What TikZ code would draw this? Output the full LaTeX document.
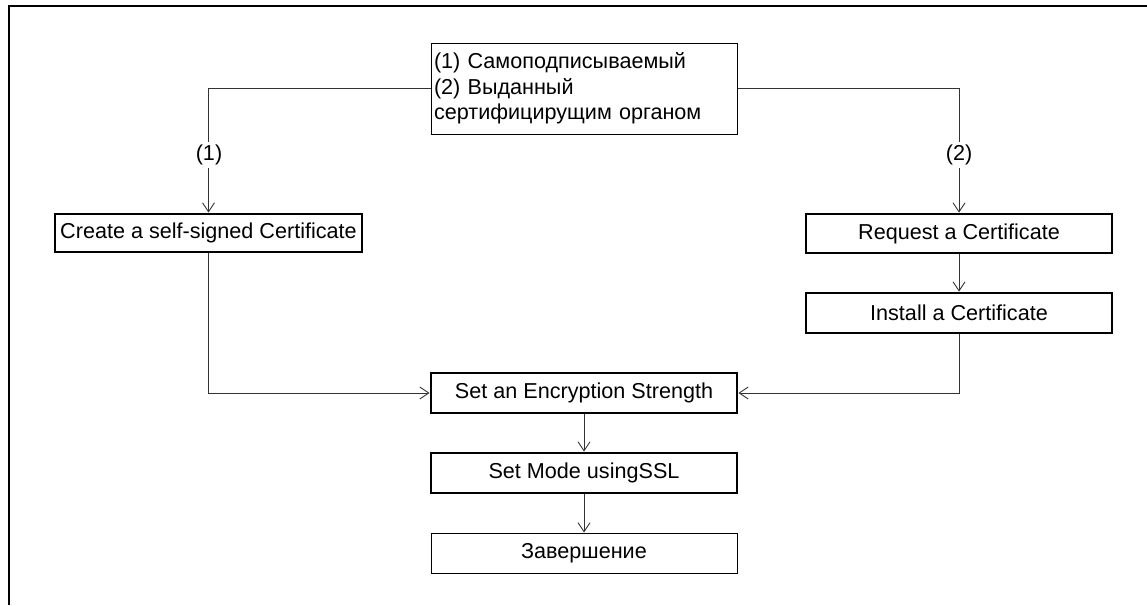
\documentclass[tikz,border=0pt]{standalone}
\usepackage{fontspec}
\setmainfont{Liberation Sans}
\usetikzlibrary{arrows.meta}
\begin{document}
\begin{tikzpicture}[x=1pt,y=-1pt,
  font=\fontsize{21.6}{25.5}\selectfont,
  stepbox/.style={draw, line width=2.8pt, minimum width=306pt, minimum height=39pt, inner sep=0pt},
  plainbox/.style={draw, line width=1pt, minimum width=306pt, minimum height=39pt, inner sep=0pt},
  conn/.style={line width=0.9pt, draw=black!80, -{Straight Barb[length=9pt,width=12pt,line width=0.9pt]}},
  lbl/.style={fill=white, inner sep=3pt}
]
\useasboundingbox (0,0) rectangle (1147,605);
\draw[line width=2.5pt] (9,605) -- (9,6) -- (1147,6);

\node[plainbox, minimum height=91pt, text width=300pt, align=left, inner sep=3pt] (top) at (584,88.5)
  {(1) Самоподписываемый\\(2) Выданный\\сертифицирущим органом};
\node[stepbox, minimum width=307pt, minimum height=38pt] (create) at (208.5,233) {Create a self-signed Certificate};
\node[stepbox] (request) at (959,233.5) {Request a Certificate};
\node[stepbox, minimum height=40pt] (install) at (959,313) {Install a Certificate};
\node[stepbox, minimum height=40pt] (enc) at (584,393) {Set an Encryption Strength};
\node[stepbox, minimum height=40pt] (mode) at (584,473) {Set Mode usingSSL};
\node[plainbox, minimum height=40pt] (end) at (584,553) {Завершение};

\draw[conn] (top.west) -| (create.north);
\draw[conn] (top.east) -| (request.north);
\node[lbl] (l1) at (209,155) {(1)};
\node[lbl] (l2) at (959,155) {(2)};
\draw[conn] (request) -- (install);
\draw[conn] (create.south) |- (enc.west);
\draw[conn] (install.south) |- (enc.east);
\draw[conn] (enc) -- (mode);
\draw[conn] (mode) -- (end);
\end{tikzpicture}
\end{document}
